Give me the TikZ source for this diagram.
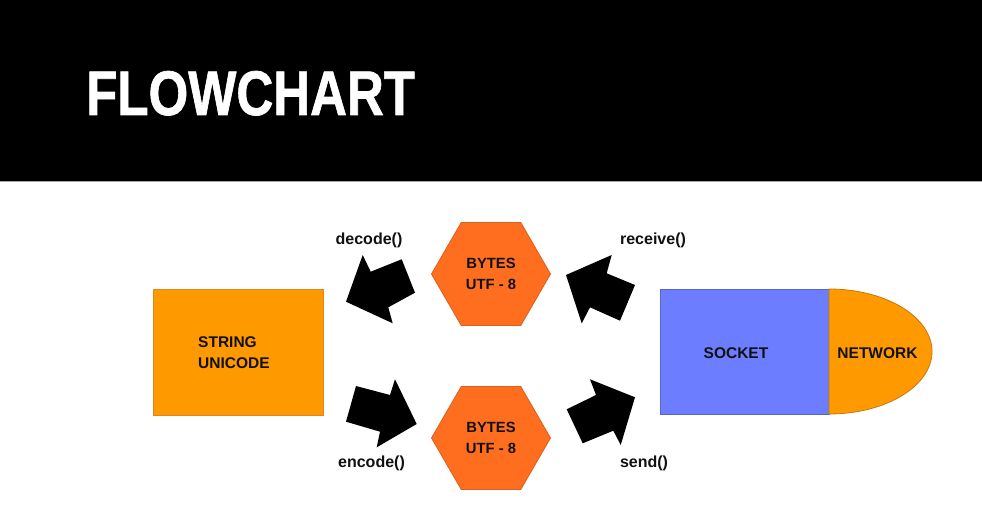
\documentclass[tikz,border=0pt]{standalone}
\usepackage{fontspec}
\setmainfont{Liberation Sans}
\newfontfamily\titlefont[FakeBold=1.2]{Liberation Sans Bold}
\usetikzlibrary{shapes.geometric}
\definecolor{strorange}{HTML}{FF9900}
\definecolor{strborder}{HTML}{D98A1E}
\definecolor{hexorange}{HTML}{FF6D1F}
\definecolor{hexborder}{HTML}{D9601E}
\definecolor{sockblue}{HTML}{6C7DFF}
\definecolor{sockborder}{HTML}{5566C8}
\definecolor{netborder}{HTML}{C8780A}
\definecolor{txt}{HTML}{111111}
\tikzset{
  lbl/.style={font=\fontsize{16}{19}\selectfont\bfseries, text=txt, inner sep=0pt},
  boxtxt/.style={font=\fontsize{15.5}{21.6}\selectfont\bfseries, text=txt},
  bytehex/.style={regular polygon, regular polygon sides=6, minimum size=119pt, inner sep=0pt,
     fill=hexorange, draw=hexborder, line width=0.8pt, boxtxt, font=\fontsize{14.8}{21.6}\selectfont\bfseries, align=center},
  blockarrow/.style={fill=black, draw=none}
}
\begin{document}
\begin{tikzpicture}[x=1pt,y=-1pt]
\useasboundingbox (0,0) rectangle (982,510);
\fill[white] (0,0) rectangle (982,510);
% header
\fill[black] (0,0) rectangle (982,182);
\draw[gray!70, line width=1pt] (0,181.5) -- (982,181.5);
\node[anchor=base west, text=white, inner sep=0pt, font=\titlefont\fontsize{63}{63}\selectfont] (title) at (86,115) {\scalebox{0.81}[1]{FLOWCHART}};

% string box
\node[rectangle, minimum width=170pt, minimum height=126pt, fill=strorange, draw=strborder, line width=0.8pt] (string) at (238,352) {};
\node[boxtxt, align=left, inner sep=0pt, anchor=west] (stringlbl) at (198,352.5) {STRING\\UNICODE};

% hexagons
\node[bytehex] (bytesTop) at (491,274) {BYTES\\UTF - 8};
\node[bytehex] (bytesBot) at (491,438) {BYTES\\UTF - 8};

% socket
\node[rectangle, minimum width=169pt, minimum height=125pt, fill=sockblue, draw=sockborder, line width=0.8pt] (socket) at (744.5,351.5) {};
\node[boxtxt, inner sep=0pt] (socketlbl) at (736,353) {SOCKET};

% network half ellipse
\filldraw[fill=strorange, draw=netborder, line width=0.8pt] (829,289) arc[start angle=-90, end angle=90, x radius=103, y radius=62.5] -- cycle;
\node[boxtxt, inner sep=0pt] (network) at (877.5,353) {NETWORK};

% labels
\node[lbl] (decode) at (369,240) {decode()};
\node[lbl] (encode) at (371.5,463) {encode()};
\node[lbl] (receive) at (653,240) {receive()};
\node[lbl] (send) at (644,463) {send()};

% block arrows
% decode (points left-down toward string)
\fill[blockarrow] (346,301.7) -- (362.7,255) -- (370.7,271.7) -- (401.7,259.3) -- (415,292.7) -- (388.3,307.3) -- (392.7,323.3) -- cycle;
% encode (points right-down toward bottom bytes)
\fill[blockarrow] (356,386) -- (390,395) -- (395,379.3) -- (416.7,424) -- (376.7,447.3) -- (380,431.7) -- (346,421.7) -- cycle;
% receive (points left-up toward top bytes)
\fill[blockarrow] (566,275) -- (611.7,255) -- (606.7,273.3) -- (635,285) -- (620,320.7) -- (590,307.3) -- (581.7,323.3) -- cycle;
% send (points right-up toward socket)
\fill[blockarrow] (582.7,443.3) -- (566.7,409.3) -- (596,395) -- (590,379.3) -- (635,397.3) -- (620.7,445) -- (613.3,430.7) -- cycle;
\end{tikzpicture}
\end{document}
